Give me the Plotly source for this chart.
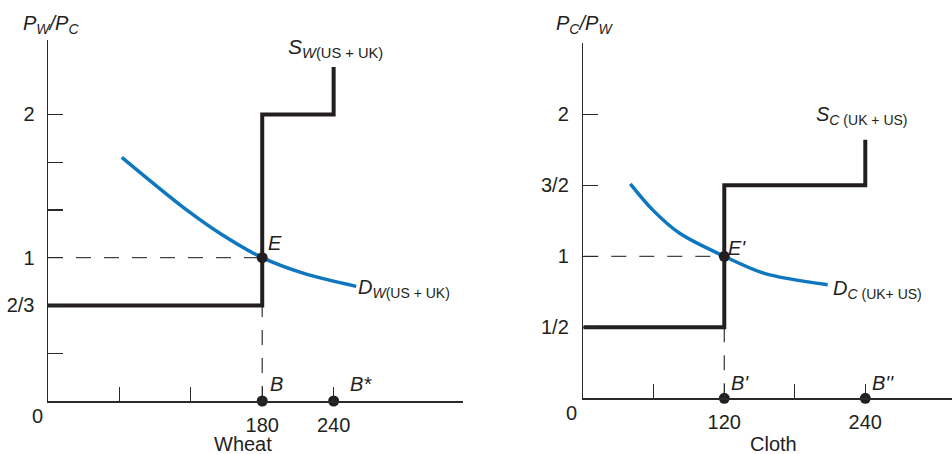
import plotly.graph_objects as go

W, H = 952, 454

# ---------------- Data: Wheat panel ----------------
wheat_supply_x = [0, 180, 180, 240, 240]
wheat_supply_y = [2/3, 2/3, 2, 2, 2.33]
wheat_demand_x = [62, 89, 117, 145, 180, 215, 259]
wheat_demand_y = [1.70, 1.515, 1.33, 1.167, 1.0, 0.89, 0.80]
wheat_eq = (180, 1.0)
wheat_dots_x = [180, 180, 240]
wheat_dots_y = [1.0, 0, 0]
wheat_ytick_vals = [1/3, 2/3, 1, 4/3, 5/3, 2]
wheat_ytick_text = ["", "2/3", "1", "", "", "2"]
wheat_xtick_vals = [60, 120, 180, 240]
wheat_xtick_text = ["", "", "180", "240"]

# ---------------- Data: Cloth panel ----------------
cloth_supply_x = [0, 120, 120, 240, 240]
cloth_supply_y = [0.5, 0.5, 1.5, 1.5, 1.82]
cloth_demand_x = [40, 59, 82, 120, 154, 208]
cloth_demand_y = [1.51, 1.327, 1.162, 1.0, 0.88, 0.80]
cloth_eq = (120, 1.0)
cloth_dots_x = [120, 120, 240]
cloth_dots_y = [1.0, 0, 0]
cloth_ytick_vals = [0.5, 1, 1.5, 2]
cloth_ytick_text = ["1/2", "1", "3/2", "2"]
cloth_xtick_vals = [60, 120, 180, 240]
cloth_xtick_text = ["", "120", "", "240"]

FONT = "Liberation Sans, Arial, Helvetica, sans-serif"
BLACK = "#231f20"
BLUE = "#0f76c0"
AXC = "#2a2a2a"
TXT = "#231f20"

def px(x):
    return x / W

def py(y):
    return 1 - y / H

fig = go.Figure()

def panel(xa, ya, sx, sy, dx, dy, eq, dotx, doty):
    # dashed guides
    fig.add_trace(go.Scatter(x=[0, eq[0]], y=[eq[1], eq[1]], mode="lines",
                             line=dict(color="#444", width=1.3, dash="15px,13px"),
                             xaxis=xa, yaxis=ya, hoverinfo="skip"))
    fig.add_trace(go.Scatter(x=[eq[0], eq[0]], y=[0, sy[1]], mode="lines",
                             line=dict(color="#444", width=1.3, dash="15px,13px"),
                             xaxis=xa, yaxis=ya, hoverinfo="skip"))
    # demand
    fig.add_trace(go.Scatter(x=dx, y=dy, mode="lines",
                             line=dict(color=BLUE, width=3.5, shape="spline", smoothing=0.9),
                             xaxis=xa, yaxis=ya))
    # supply
    fig.add_trace(go.Scatter(x=sx, y=sy, mode="lines",
                             line=dict(color=BLACK, width=4),
                             xaxis=xa, yaxis=ya))
    # dots
    fig.add_trace(go.Scatter(x=dotx, y=doty, mode="markers",
                             marker=dict(color=BLACK, size=11),
                             xaxis=xa, yaxis=ya, cliponaxis=False))

panel("x", "y", wheat_supply_x, wheat_supply_y, wheat_demand_x, wheat_demand_y,
      wheat_eq, wheat_dots_x, wheat_dots_y)
panel("x2", "y2", cloth_supply_x, cloth_supply_y, cloth_demand_x, cloth_demand_y,
      cloth_eq, cloth_dots_x, cloth_dots_y)

common_axis = dict(showgrid=False, zeroline=False, showline=True, linecolor=AXC,
                   linewidth=1.5, ticks="inside", tickwidth=1.3, tickcolor=AXC,
                   automargin=False,
                   tickfont=dict(family=FONT, size=20, color=TXT), fixedrange=True)

fig.update_layout(
    width=W, height=H, showlegend=False,
    margin=dict(l=0, r=0, t=0, b=0, autoexpand=False),
    paper_bgcolor="white", plot_bgcolor="white",
    xaxis=dict(domain=[px(48), px(463)], range=[0, 348.7], anchor="y",
               tickvals=wheat_xtick_vals, ticktext=wheat_xtick_text,
               ticklen=14, ticklabelstandoff=5, **common_axis),
    yaxis=dict(domain=[py(401), py(40)], range=[0, 2.519], anchor="x",
               tickvals=wheat_ytick_vals, ticktext=wheat_ytick_text,
               ticklen=15, ticklabelstandoff=8, **common_axis),
    xaxis2=dict(domain=[px(583.3), 1.0], range=[0, 313.8], anchor="y2",
                tickvals=cloth_xtick_vals, ticktext=cloth_xtick_text,
                ticklen=14, ticklabelstandoff=5, **common_axis),
    yaxis2=dict(domain=[py(398.3), py(43)], range=[0, 2.502], anchor="x2",
                tickvals=cloth_ytick_vals, ticktext=cloth_ytick_text,
                ticklen=15, ticklabelstandoff=9, **common_axis),
)

def ann(text, x, y, xanchor="center", size=20):
    fig.add_annotation(text=text, x=px(x), y=py(y), xref="paper", yref="paper",
                       xanchor=xanchor, yanchor="middle", showarrow=False,
                       font=dict(family=FONT, size=size, color=TXT))

# Axis titles
ann("<i>P</i><sub><i>W</i></sub><i>/P</i><sub><i>C</i></sub>", 51, 25)
ann("<i>P</i><sub><i>C</i></sub><i>/P</i><sub><i>W</i></sub>", 584, 25)
ann("Wheat", 243, 444)
ann("Cloth", 773, 444)
ann("0", 37, 416)
ann("0", 571, 413)

# Curve labels
ann("<i>S</i><sub><i>W</i>(US + UK)</sub>", 286, 48, xanchor="left", size=21)
ann("<i>D</i><sub><i>W</i>(US + UK)</sub>", 356, 288, xanchor="left")
ann("<i>S</i><sub><i>C</i> (UK + US)</sub>", 814, 115, xanchor="left")
ann("<i>D</i><sub><i>C</i> (UK+ US)</sub>", 831, 289, xanchor="left")

# Point labels
ann("<i>E</i>", 275, 243)
ann("<i>B</i>", 276, 384)
ann("<i>B*</i>", 361, 384)
ann("<i>E'</i>", 737, 248)
ann("<i>B'</i>", 740, 383)
ann("<i>B''</i>", 883, 383)

fig.write_html("out.html", config={"displayModeBar": False, "staticPlot": True},
               post_script="document.body.style.margin='0';document.body.style.overflow='hidden';")
